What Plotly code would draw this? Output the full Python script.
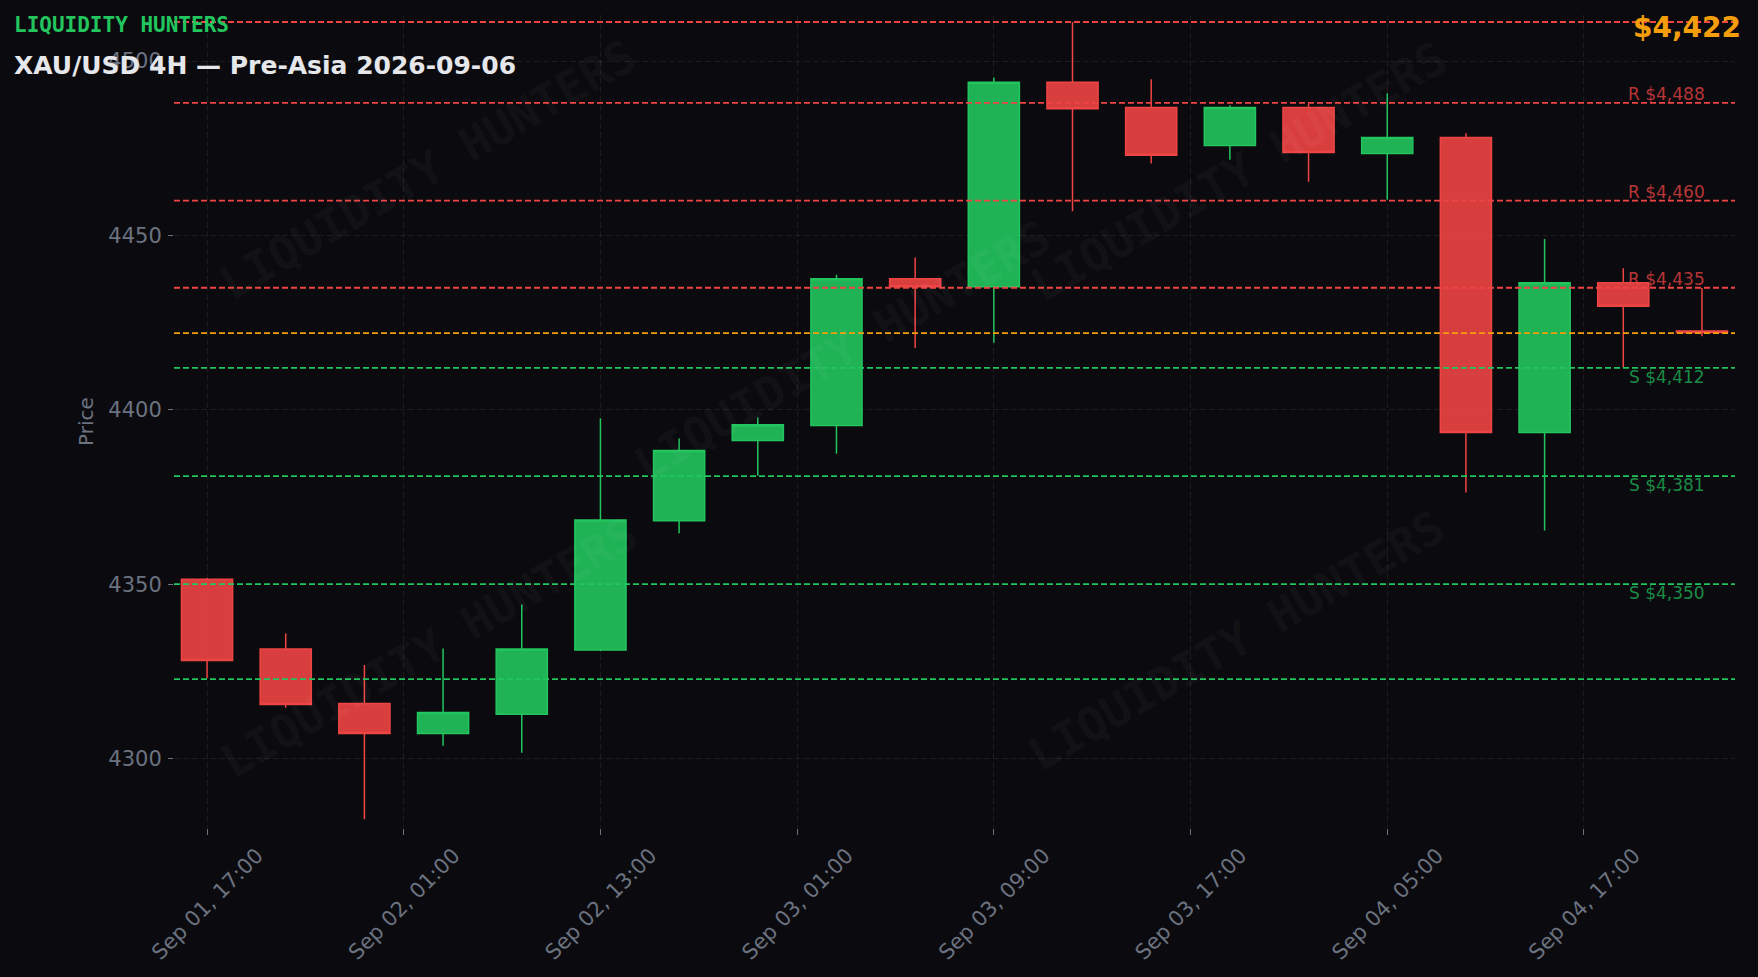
import plotly.graph_objects as go

# ---------------- data ----------------
times = ["2026-09-01 17:00", "2026-09-01 21:00", "2026-09-02 01:00", "2026-09-02 05:00",
         "2026-09-02 09:00", "2026-09-02 13:00", "2026-09-02 17:00", "2026-09-02 21:00",
         "2026-09-03 01:00", "2026-09-03 05:00", "2026-09-03 09:00", "2026-09-03 13:00",
         "2026-09-03 17:00", "2026-09-03 21:00", "2026-09-04 01:00", "2026-09-04 05:00",
         "2026-09-04 09:00", "2026-09-04 13:00", "2026-09-04 17:00", "2026-09-04 21:00"]
opens  = [4351.4, 4331.4, 4315.8, 4307.2, 4312.7, 4331.1, 4368.2, 4391.2, 4395.5, 4437.6,
          4435.3, 4493.9, 4486.7, 4475.8, 4486.7, 4473.5, 4478.1, 4393.5, 4436.4, 4422.6]
highs  = [4351.8, 4335.9, 4326.8, 4331.6, 4344.2, 4397.6, 4391.8, 4397.8, 4438.7, 4443.7,
          4495.3, 4511.2, 4494.8, 4487.3, 4487.8, 4490.8, 4479.3, 4449.0, 4440.6, 4434.9]
lows   = [4323.0, 4314.6, 4282.6, 4303.7, 4301.7, 4330.8, 4364.6, 4381.1, 4387.4, 4417.7,
          4419.2, 4456.9, 4470.6, 4471.7, 4465.4, 4460.2, 4376.3, 4365.4, 4412.1, 4421.1]
closes = [4328.1, 4315.5, 4307.2, 4313.2, 4331.4, 4368.4, 4388.3, 4395.7, 4437.6, 4435.3,
          4493.9, 4486.3, 4473.0, 4486.7, 4473.8, 4478.1, 4393.5, 4436.4, 4429.7, 4422.2]

tick_labels = ["Sep 01, 17:00", "Sep 02, 01:00", "Sep 02, 13:00", "Sep 03, 01:00",
               "Sep 03, 09:00", "Sep 03, 17:00", "Sep 04, 05:00", "Sep 04, 17:00"]
tick_step = 2.5  # candles per x tick

resistance = [4488, 4460, 4435]
support = [4412, 4381, 4350]
current_price = 4422
range_high = 4511.2
range_low = 4322.8

title_text = "XAU/USD 4H — Pre-Asia 2026-09-06"
brand = "LIQUIDITY HUNTERS"

# ---------------- styles ----------------
BG = "#0b0b0f"
GREEN = "#22c55e"
RED = "#ef4444"
ORANGE = "#f59e0b"
GREY = "#6b7280"
GRID = "rgba(255,255,255,0.07)"
FONT = "DejaVu Sans"
MONO = "DejaVu Sans Mono"
DASH = "6px,3px"

W, H = 1758, 977
ML, MR, MT, MB = 174, 23, 15, 147
PW, PH = W - ML - MR, H - MT - MB


def px_x(px):
    return (px - ML) / PW


def px_y(py):
    return 1 - (py - MT) / PH


idx = list(range(len(times)))

fig = go.Figure()
fig.add_trace(go.Candlestick(
    x=idx, open=opens, high=highs, low=lows, close=closes,
    increasing=dict(line=dict(color=GREEN, width=1.5), fillcolor="rgba(34,197,94,0.9)"),
    decreasing=dict(line=dict(color=RED, width=1.5), fillcolor="rgba(239,68,68,0.9)"),
    whiskerwidth=0, showlegend=False, text=times, hoverinfo="text+y",
))

shapes = []
annotations = []


def hline(v, color):
    shapes.append(dict(type="line", xref="paper", x0=0, x1=1, yref="y", y0=v, y1=v,
                       line=dict(color=color, width=1.8, dash=DASH), layer="above"))


hline(range_high, RED)
for v in resistance:
    hline(v, RED)
    annotations.append(dict(x=idx[-1], y=v, xref="x", yref="y", xanchor="right", yanchor="middle",
                            yshift=9, xshift=5,
                            text=f"R ${v:,}", showarrow=False,
                            font=dict(family=FONT, size=17, color="rgba(239,68,68,0.75)")))
hline(current_price, ORANGE)
for v in support:
    hline(v, GREEN)
    annotations.append(dict(x=idx[-1], y=v, xref="x", yref="y", xanchor="right", yanchor="middle",
                            yshift=-9, xshift=5,
                            text=f"S ${v:,}", showarrow=False,
                            font=dict(family=FONT, size=17, color="rgba(34,197,94,0.7)")))
hline(range_low, GREEN)

# watermarks
for (wx, wy) in [(427, 170), (1238, 172), (842, 352), (429, 650), (1236, 643)]:
    annotations.append(dict(x=px_x(wx), y=px_y(wy), xref="paper", yref="paper",
                            xanchor="center", yanchor="middle", textangle=-30,
                            text=f"<b>{brand}</b>", showarrow=False,
                            font=dict(family=MONO, size=46, color="rgba(255,255,255,0.045)")))

annotations.append(dict(x=px_x(12), y=px_y(25), xref="paper", yref="paper", xanchor="left",
                        yanchor="middle", text=f"<b>{brand}</b>", showarrow=False,
                        font=dict(family=MONO, size=21, color=GREEN)))
annotations.append(dict(x=px_x(12), y=px_y(66), xref="paper", yref="paper", xanchor="left",
                        yanchor="middle", text=f"<b>{title_text}</b>", showarrow=False,
                        font=dict(family=FONT, size=25, color="#e5e7eb")))
annotations.append(dict(x=px_x(1743), y=px_y(28), xref="paper", yref="paper", xanchor="right",
                        yanchor="middle", text=f"<b>${current_price:,}</b>", showarrow=False,
                        font=dict(family=FONT, size=28, color=ORANGE)))

fig.update_layout(
    width=W, height=H,
    margin=dict(l=ML, r=MR, t=MT, b=MB),
    paper_bgcolor=BG, plot_bgcolor=BG,
    font=dict(family=FONT, color=GREY),
    shapes=shapes, annotations=annotations,
    showlegend=False,
    boxgap=0.35, boxgroupgap=0,
    xaxis=dict(
        range=[-0.42, len(idx) - 1 + 0.42],
        tickmode="array",
        tickvals=[i * tick_step for i in range(len(tick_labels))],
        ticktext=tick_labels,
        tickangle=-45,
        ticklabelshift=50,
        tickfont=dict(family=FONT, size=21, color=GREY),
        ticks="outside", ticklen=6, tickcolor=GREY,
        showgrid=True, gridcolor=GRID, griddash=DASH, gridwidth=1,
        zeroline=False, showline=False,
        rangeslider=dict(visible=False),
    ),
    yaxis=dict(
        range=[4280.1, 4513.2],
        dtick=50,
        tickfont=dict(family=FONT, size=21, color=GREY),
        ticks="outside", ticklen=5, tickcolor=GREY, ticklabelstandoff=2,
        showgrid=True, gridcolor=GRID, griddash=DASH, gridwidth=1,
        zeroline=False, showline=False,
        title=dict(text="Price", font=dict(family=FONT, size=20, color=GREY), standoff=9),
    ),
)

fig.write_html("out.html", config={"displayModeBar": False},
               post_script="document.body.style.margin='0';document.body.style.background='#0b0b0f';document.body.style.overflow='hidden';")
